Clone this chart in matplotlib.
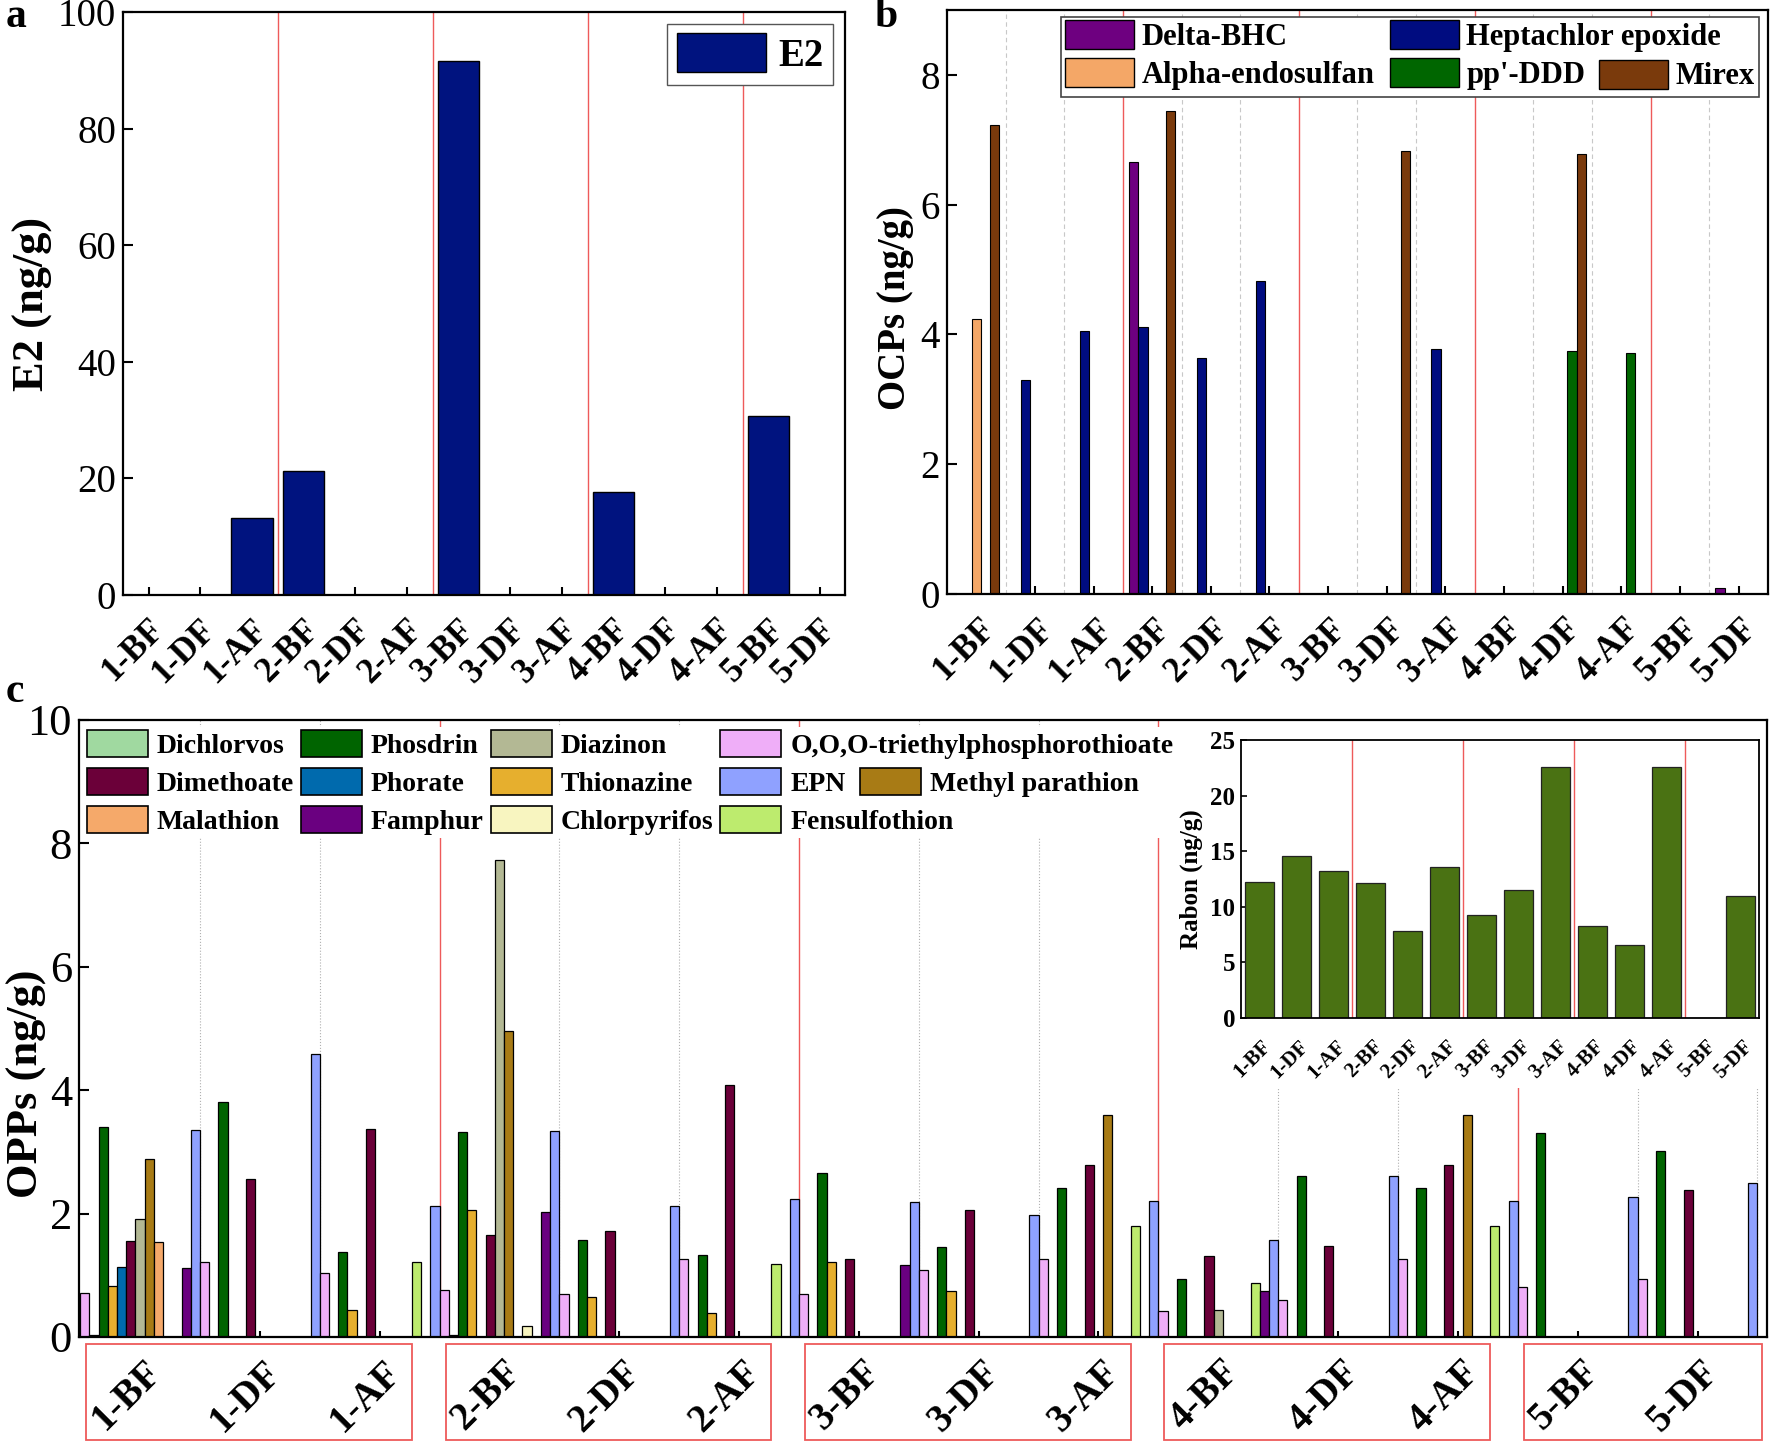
import matplotlib
matplotlib.use('Agg')
import matplotlib.pyplot as plt
import numpy as np
from matplotlib.patches import Patch, Rectangle
from matplotlib import transforms

plt.rcParams['font.family'] = ['Liberation Serif', 'DejaVu Serif']
plt.rcParams['axes.linewidth'] = 1.6

samples = ['1-BF', '1-DF', '1-AF', '2-BF', '2-DF', '2-AF', '3-BF', '3-DF', '3-AF',
           '4-BF', '4-DF', '4-AF', '5-BF', '5-DF']
red_lines = [2.5, 5.5, 8.5, 11.5]

# a: E2
e2 = [0, 0, 13.2, 21.2, 0, 0, 91.6, 0, 0, 17.7, 0, 0, 30.7, 0]

# b: OCPs
delta_bhc = [0, 0, 0, 6.66, 0, 0, 0, 0, 0, 0, 0, 0, 0, 0.09]
heptachlor = [0, 3.29, 4.05, 4.12, 3.64, 4.82, 0, 0, 3.78, 0, 0, 0, 0, 0]
alpha_endo = [4.24, 0, 0, 0, 0, 0, 0, 0, 0, 0, 0, 0, 0, 0]
pp_ddd = [0, 0, 0, 0, 0, 0, 0, 0, 0, 0, 3.74, 3.72, 0, 0]
mirex = [7.23, 0, 0, 7.44, 0, 0, 0, 6.82, 0, 0, 6.78, 0, 0, 0]

# c: OPPs, 15 positions (the last one carries no label)
fensulfothion = [0, 0, 0, 1.22, 0, 0, 1.19, 0, 0, 1.80, 0.87, 0, 1.80, 0, 0]
famphur = [0, 1.11, 0, 0, 2.03, 0, 0, 1.17, 0, 0, 0.75, 0, 0, 0, 0]
epn = [0, 3.36, 4.58, 2.12, 3.33, 2.12, 2.23, 2.18, 1.98, 2.20, 1.57, 2.61, 2.20, 2.26, 2.50]
ooo = [0.71, 1.22, 1.04, 0.76, 0.70, 1.26, 0.70, 1.09, 1.26, 0.42, 0.60, 1.26, 0.81, 0.94, 0]
dichlorvos = [0.03, 0, 0, 0.03, 0, 0, 0, 0, 0, 0, 0, 0, 0, 0, 0]
phosdrin = [3.41, 3.81, 1.37, 3.32, 1.57, 1.32, 2.66, 1.45, 2.42, 0.94, 2.61, 2.42, 3.30, 3.02, 0]
thionazine = [0.83, 0, 0.43, 2.06, 0.65, 0.39, 1.22, 0.75, 0, 0, 0, 0, 0, 0, 0]
phorate = [1.14, 0, 0, 0, 0, 0, 0, 0, 0, 0, 0, 0, 0, 0, 0]
dimethoate = [1.55, 2.56, 3.37, 1.65, 1.71, 4.09, 1.26, 2.06, 2.78, 1.31, 1.47, 2.78, 0, 2.38, 0]
diazinon = [1.91, 0, 0, 7.73, 0, 0, 0, 0, 0, 0.44, 0, 0, 0, 0, 0]
methyl_parathion = [2.88, 0, 0, 4.96, 0, 0, 0, 0, 3.59, 0, 0, 3.59, 0, 0, 0]
malathion = [1.54, 0, 0, 0, 0, 0, 0, 0, 0, 0, 0, 0, 0, 0, 0]
chlorpyrifos = [0, 0, 0, 0.18, 0, 0, 0, 0, 0, 0, 0, 0, 0, 0, 0]

# inset: Rabon
rabon = [12.25, 14.56, 13.21, 12.16, 7.81, 13.54, 9.25, 11.5, 22.55, 8.26, 6.58, 22.55, 0, 10.93]

opp_colors = {
    'Dichlorvos': '#A0D9A0', 'Phosdrin': '#006400', 'Diazinon': '#B3B894',
    'O,O,O-triethylphosphorothioate': '#EFAEF8', 'Dimethoate': '#6B0039',
    'Phorate': '#006AAD', 'Thionazine': '#E6AF2E', 'EPN': '#8FA1FF',
    'Methyl parathion': '#A87B15', 'Malathion': '#F5A96A', 'Famphur': '#6A0080',
    'Chlorpyrifos': '#F8F5C0', 'Fensulfothion': '#BDEB6E',
}
# bar order inside one position (left to right)
opp_series = [('Fensulfothion', fensulfothion), ('Famphur', famphur), ('EPN', epn),
              ('O,O,O-triethylphosphorothioate', ooo), ('Dichlorvos', dichlorvos),
              ('Phosdrin', phosdrin), ('Thionazine', thionazine), ('Phorate', phorate),
              ('Dimethoate', dimethoate), ('Diazinon', diazinon),
              ('Methyl parathion', methyl_parathion), ('Malathion', malathion),
              ('Chlorpyrifos', chlorpyrifos)]

RED = '#EE5A5A'

fig = plt.figure(figsize=(17.7, 14.43), dpi=100)


def shift_labels(ax, dx_px):
    off = transforms.ScaledTranslation(dx_px / 100, 0, fig.dpi_scale_trans)
    for lab in ax.get_xticklabels():
        lab.set_transform(lab.get_transform() + off)


x = np.arange(len(samples))

# ---------------- a ----------------
ax_a = fig.add_axes([0.0695, 0.5877, 0.408, 0.404])
for p in red_lines:
    ax_a.axvline(p, color=RED, lw=1, zorder=0.5)
ax_a.bar(x, e2, 0.8, color='#00137F', edgecolor='black', lw=1, label='E2', zorder=2)
ax_a.set_xlim(-0.5, 13.48)
ax_a.set_ylim(0, 100)
ax_a.set_yticks(range(0, 101, 20))
ax_a.set_xticks(x)
ax_a.set_xticklabels(samples, rotation=45, ha='right', fontsize=25, fontweight='bold')
ax_a.tick_params(axis='y', direction='in', length=7, width=1.5, labelsize=28, pad=5)
ax_a.tick_params(axis='x', direction='in', length=6, width=1.5, pad=13)
shift_labels(ax_a, 22)
ax_a.set_ylabel('E2 (ng/g)', fontsize=32, fontweight='bold')
ax_a.yaxis.set_label_coords(-0.097, 0.5)
ax_a.legend(loc='upper right', bbox_to_anchor=(0.983, 0.98), prop={'weight': 'bold', 'size': 28},
            handlelength=2.3, handleheight=1.17, handletextpad=0.3, borderpad=0.25,
            borderaxespad=0, fancybox=False, framealpha=1, edgecolor='#555555')

# ---------------- b ----------------
ax_b = fig.add_axes([0.535, 0.5884, 0.4638, 0.4047])
for i in range(len(samples) - 1):
    p = i + 0.5
    if p in red_lines:
        ax_b.axvline(p, color=RED, lw=1, zorder=0.5)
    else:
        ax_b.axvline(p, color='#C8C8C8', lw=0.8, ls=(0, (4, 3)), zorder=0.5)
ocp = [('Delta-BHC', delta_bhc, '#6E0080'), ('Heptachlor epoxide', heptachlor, '#000C80'),
       ('Alpha-endosulfan', alpha_endo, '#F4A767'), ("pp'-DDD", pp_ddd, '#006600'),
       ('Mirex', mirex, '#7A3A0C')]
wb = 0.158
ocp_handles = {}
for k, (name, vals, col) in enumerate(ocp):
    ax_b.bar(x + (k - 2) * wb, vals, wb, color=col, edgecolor='black', lw=0.8, zorder=2)
    ocp_handles[name] = Patch(facecolor=col, edgecolor='black', lw=1, label=name)
ax_b.set_xlim(-0.5, 13.5)
ax_b.set_ylim(0, 9)
ax_b.set_yticks(range(0, 9, 2))
ax_b.set_xticks(x)
ax_b.set_xticklabels(samples, rotation=45, ha='right', fontsize=25, fontweight='bold')
ax_b.tick_params(axis='y', direction='in', length=7, width=1.5, labelsize=28, pad=5)
ax_b.tick_params(axis='x', direction='in', length=6, width=1.5, pad=13)
shift_labels(ax_b, 25)
ax_b.set_ylabel('OCPs (ng/g)', fontsize=28, fontweight='bold')
ax_b.yaxis.set_label_coords(-0.04, 0.49)
ax_b.add_patch(Rectangle((0.139, 0.851), 0.85, 0.137, transform=ax_b.transAxes,
                         facecolor='white', edgecolor='#444444', lw=1.2, zorder=4))
legb_kw = dict(prop={'weight': 'bold', 'size': 22}, handlelength=2.25, handleheight=1.08,
               handletextpad=0.25, labelspacing=0.2, borderpad=0, borderaxespad=0,
               frameon=False, loc='upper left')
lb1 = ax_b.legend(handles=[ocp_handles['Delta-BHC'], ocp_handles['Alpha-endosulfan'],
                           ocp_handles['Heptachlor epoxide'], ocp_handles["pp'-DDD"]],
                  ncol=2, columnspacing=0.5, bbox_to_anchor=(0.144, 0.982), **legb_kw)
ax_b.add_artist(lb1)
ax_b.legend(handles=[ocp_handles['Mirex']], bbox_to_anchor=(0.794, 0.915), **legb_kw)

# ---------------- c ----------------
ax_c = fig.add_axes([0.0446, 0.0735, 0.9537, 0.4276])
npos = len(epn)
xc = np.arange(npos)
for i in range(npos - 1):
    p = i + 0.5
    if p in red_lines:
        ax_c.axvline(p, color=RED, lw=1, zorder=0.5)
    else:
        ax_c.axvline(p, color='#B0B0B0', lw=0.8, ls=':', zorder=0.5)
# white area behind the inset and its labels
ax_c.add_patch(Rectangle((0.655, 0.4035), 0.345, 0.6, transform=ax_c.transAxes,
                         facecolor='white', edgecolor='none', zorder=1))
wc = 0.0769
opp_handles = {}
for k, (name, vals) in enumerate(opp_series):
    ax_c.bar(xc + (k - 9) * wc, vals, wc, color=opp_colors[name], edgecolor='black',
             lw=0.9, zorder=2)
    opp_handles[name] = Patch(facecolor=opp_colors[name], edgecolor='black', lw=1.2, label=name)
ax_c.set_xlim(-0.51, 13.58)
ax_c.set_ylim(0, 10)
ax_c.set_yticks(range(0, 11, 2))
ax_c.set_xticks(x)
ax_c.set_xticklabels(samples, rotation=45, ha='right', fontsize=28, fontweight='bold')
ax_c.tick_params(axis='y', direction='in', length=7, width=1.5, labelsize=32, pad=5)
ax_c.tick_params(axis='x', direction='in', length=4, width=1.5, pad=12)
shift_labels(ax_c, 29)
ax_c.set_ylabel('OPPs (ng/g)', fontsize=32, fontweight='bold')
ax_c.yaxis.set_label_coords(-0.019, 0.41)

# red boxes round the sample groups
groups = [(0, 2), (3, 5), (6, 8), (9, 11), (12, 13)]
right_pad = [0.27, 0.27, 0.27, 0.27, 0.54]
blend = transforms.blended_transform_factory(ax_c.transData, ax_c.transAxes)
for (g0, g1), rp in zip(groups, right_pad):
    ax_c.add_patch(Rectangle((g0 - 0.45, -0.167), g1 - g0 + 0.45 + rp, 0.156, transform=blend,
                             facecolor='none', edgecolor=RED, lw=1.3, clip_on=False))

legc_kw = dict(prop={'weight': 'bold', 'size': 20}, handlelength=2.2, handleheight=1.1,
               handletextpad=0.32, labelspacing=0.33, borderpad=0.1, borderaxespad=0,
               loc='upper left', fancybox=False, framealpha=1, facecolor='white',
               edgecolor='none')
order_c = ['Dichlorvos', 'Dimethoate', 'Malathion', 'Phosdrin', 'Phorate', 'Famphur',
           'Diazinon', 'Thionazine', 'Chlorpyrifos', 'O,O,O-triethylphosphorothioate',
           'EPN', 'Fensulfothion']
lc1 = ax_c.legend(handles=[opp_handles[n] for n in order_c], ncol=4, columnspacing=0.25,
                  bbox_to_anchor=(0.003, 0.988), **legc_kw)
ax_c.add_artist(lc1)
ax_c.legend(handles=[opp_handles['Methyl parathion']], bbox_to_anchor=(0.461, 0.926), **legc_kw)

# ---------------- inset ----------------
ax_in = fig.add_axes([0.7011, 0.2945, 0.2927, 0.1927])
for p in red_lines:
    ax_in.axvline(p, color=RED, lw=1, zorder=0.5)
ax_in.bar(x, rabon, 0.8, color='#4A7213', edgecolor='#222222', lw=0.9, zorder=2)
ax_in.set_xlim(-0.5, 13.5)
ax_in.set_ylim(0, 25)
ax_in.set_yticks(range(0, 26, 5))
ax_in.set_yticklabels([str(v) for v in range(0, 26, 5)], fontweight='bold')
ax_in.set_xticks(x)
ax_in.set_xticklabels(samples, rotation=45, ha='right', fontsize=15, fontweight='bold')
ax_in.tick_params(axis='y', direction='in', length=4, width=1.2, labelsize=18, pad=4)
ax_in.tick_params(axis='x', length=0, pad=13)
shift_labels(ax_in, 16)
ax_in.set_ylabel('Rabon (ng/g)', fontsize=18, fontweight='bold')
ax_in.yaxis.set_label_coords(-0.073, 0.5)
for s in ax_in.spines.values():
    s.set_linewidth(1.3)

# panel letters
fig.text(0.0034, 0.981, 'a', fontsize=30, fontweight='bold', va='baseline')
fig.text(0.494, 0.981, 'b', fontsize=30, fontweight='bold', va='baseline')
fig.text(0.0034, 0.5135, 'c', fontsize=30, fontweight='bold', va='baseline')

fig.savefig('out.png', dpi=100)
